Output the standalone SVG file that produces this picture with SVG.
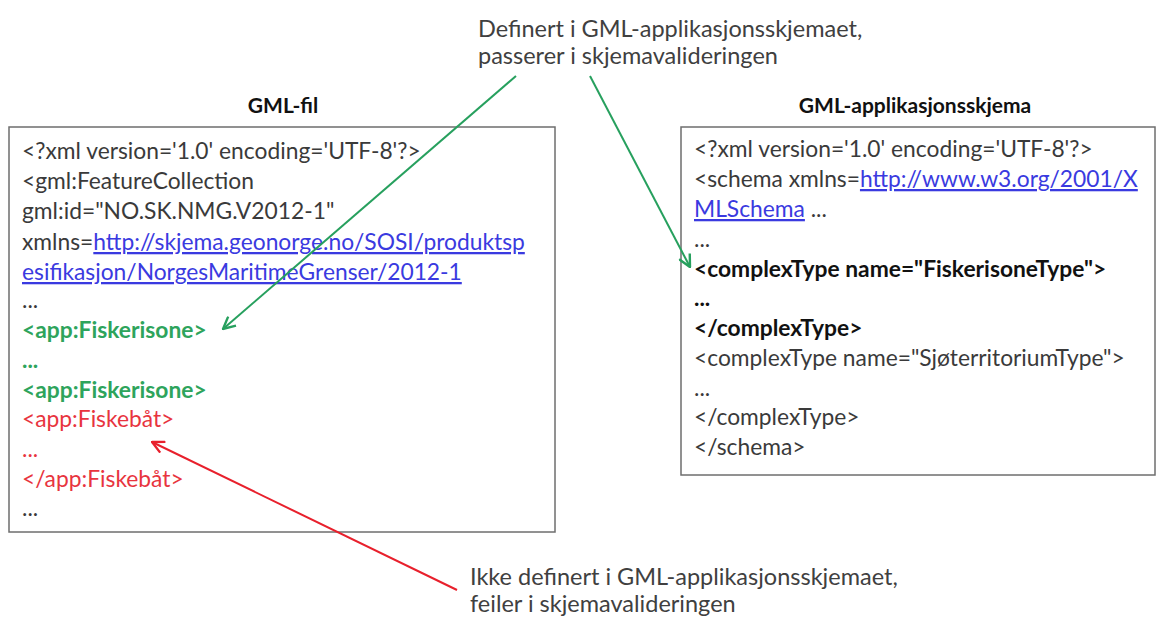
<svg xmlns="http://www.w3.org/2000/svg" width="1160" height="617" viewBox="0 0 1160 617">
  <style>
    text { font-family: Lato, "Open Sans", "Liberation Sans", sans-serif; font-size: 22.8px; fill: #3a3a3a; }
    .title { font-size: 21px; font-weight: bold; fill: #111; text-anchor: middle; }
    .link { fill: #3a3ae0; text-decoration: underline; }
    .ok { fill: #2ea45c; font-weight: bold; }
    .bad { fill: #e8343e; }
    .strong { font-weight: bold; fill: #111; }
    .note { font-size: 23.5px; fill: #404040; }
    .box { fill: #fff; stroke: #6e6e6e; stroke-width: 1.5; }
    .con-ok { fill: none; stroke: #27a05e; stroke-width: 2; }
    .con-bad { fill: none; stroke: #e8202c; stroke-width: 2; }
  </style>
  <defs>
    <marker id="head-ok" viewBox="0 0 14 14" refX="13" refY="7" markerWidth="14" markerHeight="14" markerUnits="userSpaceOnUse" orient="auto">
      <path d="M1,1 L13,7 L1,13" fill="none" stroke="#27a05e" stroke-width="2.4"/>
    </marker>
    <marker id="head-bad" viewBox="0 0 14 14" refX="13" refY="7" markerWidth="14" markerHeight="14" markerUnits="userSpaceOnUse" orient="auto">
      <path d="M1,1 L13,7 L1,13" fill="none" stroke="#e8202c" stroke-width="2.4"/>
    </marker>
  </defs>
  <rect width="1160" height="617" fill="#fff"/>

  <!-- Annotation: passes schema validation -->
  <g id="note-ok">
    <text class="note" x="478" y="37">Definert i GML-applikasjonsskjemaet,</text>
    <text class="note" x="478" y="64">passerer i skjemavalideringen</text>
  </g>

  <!-- GML document -->
  <g id="gml-file">
    <text class="title" x="283" y="113">GML-fil</text>
    <rect class="box" x="9" y="127" width="546" height="405"/>
    <text x="22" y="159">&lt;?xml version='1.0' encoding='UTF-8'?&gt;</text>
    <text x="22" y="189">&lt;gml:FeatureCollection</text>
    <text x="22" y="219">gml:id="NO.SK.NMG.V2012-1"</text>
    <text x="22" y="250">xmlns=<tspan class="link">http://skjema.geonorge.no/SOSI/produktsp</tspan></text>
    <text class="link" x="22" y="280">esifikasjon/NorgesMaritimeGrenser/2012-1</text>
    <text x="22" y="308">...</text>
    <text class="ok" x="22" y="338">&lt;app:Fiskerisone&gt;</text>
    <text class="ok" x="22" y="368">...</text>
    <text class="ok" x="22" y="398">&lt;app:Fiskerisone&gt;</text>
    <text class="bad" x="22" y="427">&lt;app:Fiskebåt&gt;</text>
    <text class="bad" x="22" y="457">...</text>
    <text class="bad" x="22" y="487">&lt;/app:Fiskebåt&gt;</text>
    <text x="22" y="516">...</text>
  </g>

  <!-- GML application schema -->
  <g id="gml-schema">
    <text class="title" x="915" y="113">GML-applikasjonsskjema</text>
    <rect class="box" x="681" y="127" width="474" height="348"/>
    <text x="694" y="157">&lt;?xml version='1.0' encoding='UTF-8'?&gt;</text>
    <text x="694" y="187">&lt;schema xmlns=<tspan class="link">http://www.w3.org/2001/X</tspan></text>
    <text x="694" y="217"><tspan class="link">MLSchema</tspan> ...</text>
    <text x="694" y="247">...</text>
    <text class="strong" x="694" y="277">&lt;complexType name="FiskerisoneType"&gt;</text>
    <text class="strong" x="694" y="306">...</text>
    <text class="strong" x="694" y="336">&lt;/complexType&gt;</text>
    <text x="694" y="366">&lt;complexType name="SjøterritoriumType"&gt;</text>
    <text x="694" y="396">...</text>
    <text x="694" y="425">&lt;/complexType&gt;</text>
    <text x="694" y="455">&lt;/schema&gt;</text>
  </g>

  <!-- Annotation: fails schema validation -->
  <g id="note-bad">
    <text class="note" x="470" y="585">Ikke definert i GML-applikasjonsskjemaet,</text>
    <text class="note" x="470" y="612">feiler i skjemavalideringen</text>
  </g>

  <!-- Connectors -->
  <g id="connectors">
    <line class="con-ok" x1="516" y1="76" x2="223" y2="329" marker-end="url(#head-ok)"/>
    <line class="con-ok" x1="590" y1="76" x2="690" y2="267" marker-end="url(#head-ok)"/>
    <line class="con-bad" x1="457" y1="590" x2="152" y2="442" marker-end="url(#head-bad)"/>
  </g>
</svg>
